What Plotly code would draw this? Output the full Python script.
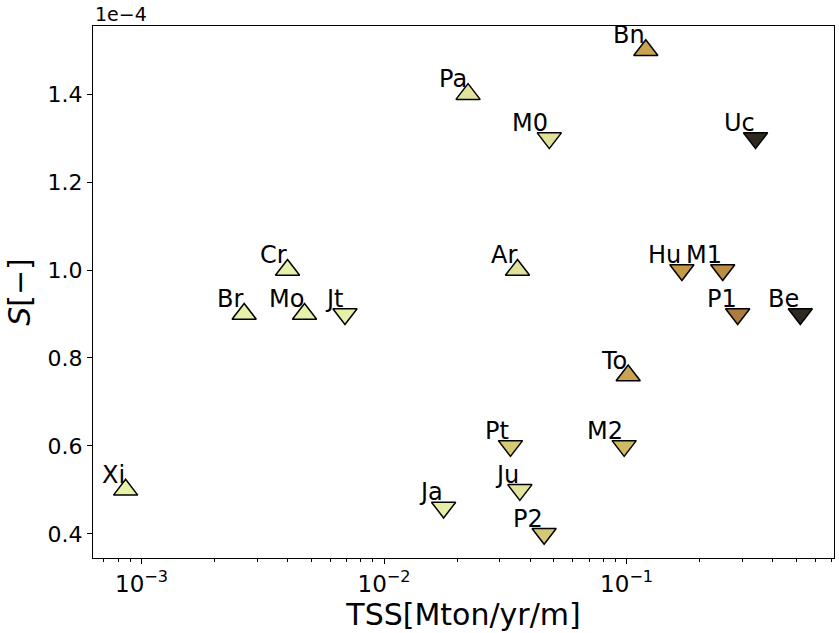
import numpy as np
import plotly.graph_objects as go

# ---- data (S values in units of 1e-4) ----
names = ["Xi", "Br", "Cr", "Mo", "Jt", "Pa", "M0", "Ar", "Bn", "Uc",
         "Hu", "M1", "P1", "Be", "To", "Pt", "M2", "Ju", "Ja", "P2"]
tss = [8.6e-4, 2.65e-3, 4.0e-3, 4.7e-3, 6.9e-3, 0.0222, 0.048, 0.0355, 0.12, 0.34,
       0.169, 0.249, 0.287, 0.52, 0.1015, 0.0332, 0.0977, 0.0363, 0.0176, 0.0457]
s_val = [0.50, 0.90, 1.00, 0.90, 0.90, 1.40, 1.30, 1.00, 1.50, 1.30,
         1.00, 1.00, 0.90, 0.90, 0.76, 0.60, 0.60, 0.50, 0.46, 0.40]
direction = ["up", "up", "up", "up", "down", "up", "down", "up", "up", "down",
             "down", "down", "down", "down", "up", "down", "down", "down", "down", "down"]
cval = [0.02, 0.02, 0.02, 0.02, 0.03, 0.09, 0.10, 0.10, 0.36, 0.96,
        0.40, 0.45, 0.55, 0.96, 0.36, 0.20, 0.27, 0.08, 0.04, 0.21]

ytick_vals = [0.4, 0.6, 0.8, 1.0, 1.2, 1.4]
xtick_vals = [1e-3, 1e-2, 1e-1]
xtick_text = ["10<sup>\u22123</sup>", "10<sup>\u22122</sup>", "10<sup>\u22121</sup>"]
minor_vals = [m * 10.0 ** e for e in (-4, -3, -2, -1) for m in range(2, 10)]

# turbid-like colour scale
turbid = [[0.0, "#e9f6ab"], [0.1, "#e0e19a"], [0.2, "#d5c978"], [0.3, "#cdb45e"],
          [0.4, "#c4994a"], [0.5, "#b4823f"], [0.6, "#a47340"], [0.7, "#86603d"],
          [0.8, "#654c37"], [0.9, "#44392d"], [1.0, "#221e1b"]]

fig = go.Figure()
fig.add_trace(go.Scatter(
    x=tss, y=s_val, mode="markers",
    marker=dict(
        symbol=["triangle-up" if d == "up" else "triangle-down" for d in direction],
        size=21, color=cval, colorscale=turbid, cmin=0, cmax=1,
        line=dict(color="black", width=1.5)),
    hoverinfo="text", text=names, showlegend=False, cliponaxis=False))

for n, x, y in zip(names, tss, s_val):
    fig.add_annotation(x=np.log10(x), y=y, text=n, showarrow=False,
                       xanchor="right", yanchor="bottom", borderpad=0,
                       font=dict(size=24, color="black", family="DejaVu Sans"))

fig.add_annotation(x=0, y=1, xref="paper", yref="paper", text="1e\u22124",
                   showarrow=False, xanchor="left", yanchor="bottom", yshift=-1,
                   font=dict(size=19, color="black", family="DejaVu Sans"))

fig.update_layout(
    width=839, height=633,
    margin=dict(l=93, r=5, t=26, b=75, autoexpand=False),
    paper_bgcolor="white", plot_bgcolor="white",
    font=dict(family="DejaVu Sans", color="black"),
    xaxis=dict(type="log", range=[-3.2, -0.145], automargin=False,
               tickmode="array", tickvals=xtick_vals, ticktext=xtick_text,
               tickfont=dict(size=23), ticks="outside", ticklen=5, tickcolor="black",
               minor=dict(tickmode="array", tickvals=minor_vals, ticks="outside",
                          ticklen=3, tickcolor="black", showgrid=False),
               showgrid=False, zeroline=False, showline=True, linecolor="black",
               linewidth=1, mirror=True,
               title=dict(text="TSS[Mton/yr/m]", font=dict(size=30), standoff=0)),
    yaxis=dict(range=[0.345, 1.555], automargin=False,
               tickmode="array", tickvals=ytick_vals, tickformat=".1f",
               tickfont=dict(size=22), ticks="outside", ticklen=5, tickcolor="black",
               showgrid=False, zeroline=False, showline=True, linecolor="black",
               linewidth=1, mirror=True,
               title=dict(text="<i>S</i>[\u2212]", font=dict(size=30), standoff=8)),
)

fig.write_html("out.html", config={"responsive": False, "displayModeBar": False},
               post_script="document.body.style.margin='0';document.body.style.overflow='hidden';")
